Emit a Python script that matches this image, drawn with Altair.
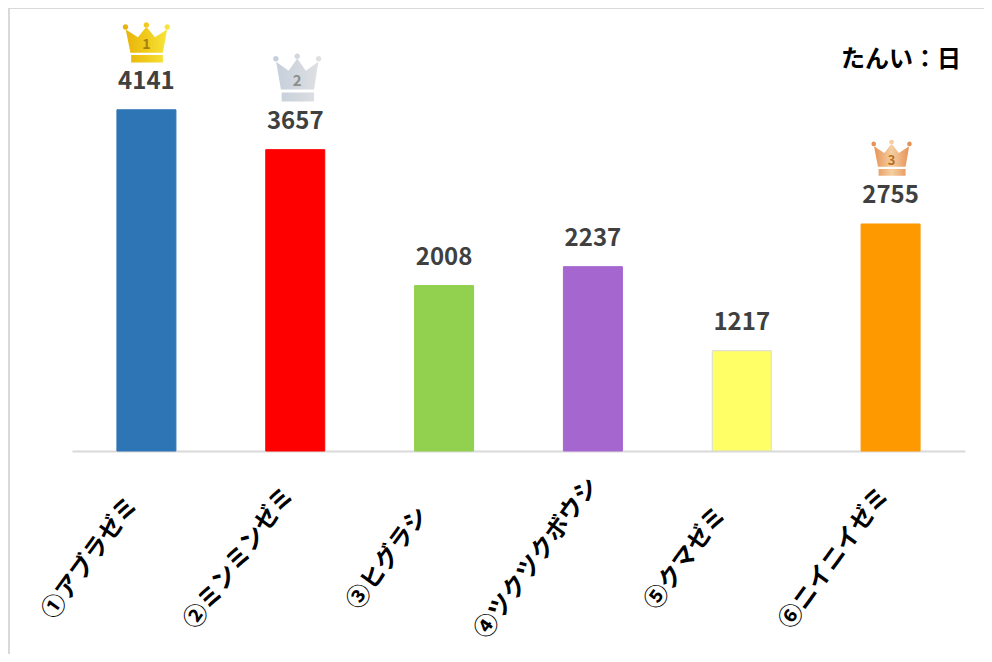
import altair as alt
import pandas as pd

names = ["①アブラゼミ", "②ミンミンゼミ", "③ヒグラシ", "④ツクツクボウシ", "⑤クマゼミ", "⑥ニイニイゼミ"]
days = [4141, 3657, 2008, 2237, 1217, 2755]
bar_colors = ["#2e75b6", "#ff0000", "#92d050", "#a566d0", "#ffff66", "#ff9900"]
bar_strokes = ["#2e75b6", "#ff0000", "#92d050", "#a566d0", "#d9d9d9", "#ff9900"]
unit_label = "たんい：日"

FONT = "Noto Sans CJK JP"
df = pd.DataFrame({"name": names, "days": days, "c": bar_colors, "s": bar_strokes})


def crown_path(k):
    """Crown outline in a unit box, stretched vertically by k."""
    pts = [(-0.88, -0.56), (-0.36, -0.24), (0, -0.68), (0.36, -0.24), (0.88, -0.56),
           (0.70, 0.42), (-0.68, 0.42)]
    p = "M" + " L".join(f"{x},{y * k:.3f}" for x, y in pts) + " Z "
    p += f"M-0.65,{0.52 * k:.3f} L0.70,{0.52 * k:.3f} L0.70,{0.84 * k:.3f} L-0.65,{0.84 * k:.3f} Z "
    for cx, cy in [(-0.89, -0.67), (0, -0.76), (0.89, -0.67)]:
        r = 0.115
        p += (f"M{cx - r},{cy * k:.3f} A{r},{r} 0 1 0 {cx + r},{cy * k:.3f} "
              f"A{r},{r} 0 1 0 {cx - r},{cy * k:.3f} Z ")
    return p


x = alt.X(
    "name:N", sort=names, title=None,
    scale=alt.Scale(paddingInner=0, paddingOuter=0),
    axis=alt.Axis(
        labelAngle=-54, labelAlign="center", labelBaseline="middle", labelFont=FONT,
        labelFontSize=24, labelFontWeight="bold", labelColor="#000000", labelPadding=107,
        labelOffset=-56, labelLimit=400, labelOverlap=False, labelBound=False, labelFlush=False,
        ticks=False, domainColor="#d9d9d9", domainWidth=2, grid=False,
    ),
)
y = alt.Y("days:Q", title=None, scale=alt.Scale(domain=[0, 5000]), axis=None)

bars = alt.Chart(df).mark_bar(size=59, strokeWidth=1).encode(
    x=x, y=y,
    fill=alt.Fill("c:N", scale=None),
    stroke=alt.Stroke("s:N", scale=None),
)
values = alt.Chart(df).mark_text(
    dy=-28, font=FONT, fontSize=24, fontWeight="bold", color="#404040"
).encode(x=x, y=y, text="days:Q")

crowns = [
    ("①アブラゼミ", "1", 47, 1.0, -67, 0, ["#e8b008", "#f0cb1c", "#f7e93e"], "#a5820c", 14, -65),
    ("②ミンミンゼミ", "2", 48, 1.18, -72, 2, ["#c4cedb", "#d2d7de", "#e0e1e3"], "#8a9088", 15, -69),
    ("⑥ニイニイゼミ", "3", 40, 1.05, -66, 1, ["#e58a4c", "#f4cfa0", "#e58a4c"], "#b9701f", 13, -63),
]
crown_layers = []
for nm, rank, w, k, off, xo, stops, numc, nums, numy in crowns:
    row = df[df.name == nm].assign(rank=rank)
    grad = alt.Gradient(
        gradient="linear", x1=0, y1=0, x2=1, y2=0,
        stops=[alt.GradientStop(color=s, offset=i / 2) for i, s in enumerate(stops)],
    )
    crown_layers.append(
        alt.Chart(row).mark_point(
            shape=crown_path(k), size=w * w, filled=True, fill=grad, opacity=1,
            strokeWidth=0, yOffset=off, xOffset=xo,
        ).encode(x=x, y=y)
    )
    crown_layers.append(
        alt.Chart(row).mark_text(
            dy=numy, dx=xo, font=FONT, fontSize=nums, fontWeight="bold", color=numc
        ).encode(x=x, y=y, text="rank:N")
    )

unit = alt.Chart(pd.DataFrame({"t": [unit_label]})).mark_text(
    align="right", baseline="middle", font=FONT, fontSize=24, fontWeight="bold", color="#000000"
).encode(x=alt.value(889), y=alt.value(21), text="t:N")

frame_left = alt.Chart(pd.DataFrame({"a": [0]})).mark_rule(color="#d9d9d9", strokeWidth=2).encode(
    x=alt.value(-63), y=alt.value(-31), y2=alt.value(615)
)
frame_top = alt.Chart(pd.DataFrame({"a": [0]})).mark_rule(color="#d9d9d9", strokeWidth=2).encode(
    y=alt.value(-31), x=alt.value(-63), x2=alt.value(912)
)

chart = alt.layer(frame_left, frame_top, bars, values, *crown_layers, unit).properties(
    width=893, height=412,
    padding={"left": 64, "top": 31, "right": 19, "bottom": 203},
    autosize=alt.AutoSizeParams(type="none"),
    background="#ffffff",
).configure_view(stroke=None)

chart.save("out.html", embed_options={"renderer": "svg", "actions": False})
